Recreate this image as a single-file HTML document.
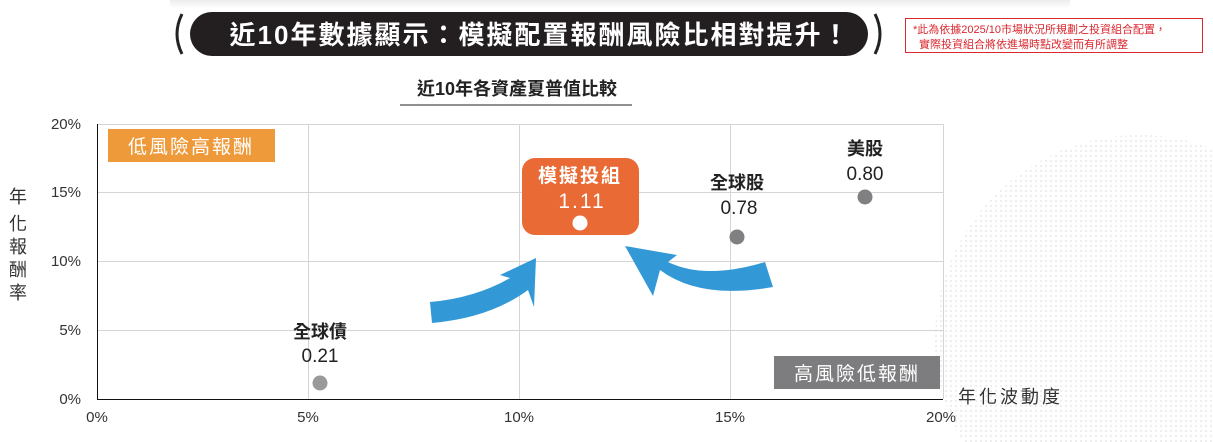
<!DOCTYPE html>
<html><head><meta charset="utf-8"><style>
html,body{margin:0;width:1213px;height:442px;background:#fff;overflow:hidden;font-family:"Liberation Sans","Noto Sans CJK TC",sans-serif;}
svg{display:block}
</style></head><body>
<svg width="1213" height="442" xmlns="http://www.w3.org/2000/svg" style="font-family:'Liberation Sans','Noto Sans CJK TC',sans-serif">
<defs>
<pattern id="dots" width="5" height="5" patternUnits="userSpaceOnUse"><rect width="2" height="2" fill="#e2e2e2"/></pattern>
<linearGradient id="shadow" x1="0" y1="0" x2="0" y2="1"><stop offset="0" stop-color="#ececec"/><stop offset="1" stop-color="#fff"/></linearGradient>
</defs>
<rect x="170" y="0" width="900" height="8" fill="url(#shadow)"/>
<circle cx="1140" cy="340" r="205" fill="url(#dots)" opacity="0.6"/>
<path d="M182 14 Q172 34 182 54" stroke="#222" stroke-width="3" fill="none"/>
<path d="M875 14 Q885 34 875 54" stroke="#222" stroke-width="3" fill="none"/>
<rect x="190" y="12" width="678" height="44" rx="22" fill="#231f20"/>
<text x="540" y="44" font-size="26" font-weight="bold" fill="#fff" text-anchor="middle" letter-spacing="2">近10年數據顯示：模擬配置報酬風險比相對提升！</text>
<rect x="905.5" y="18.5" width="297" height="34" fill="#fff" stroke="#d9282f"/>
<text x="913" y="33" font-size="11" fill="#d9282f">*此為依據2025/10市場狀況所規劃之投資組合配置，</text>
<text x="919" y="48" font-size="11" fill="#d9282f">實際投資組合將依進場時點改變而有所調整</text>
<text x="517" y="95" font-size="18" font-weight="bold" fill="#222" text-anchor="middle">近10年各資產夏普值比較</text>
<line x1="400" y1="105" x2="632" y2="105" stroke="#222" stroke-width="1"/>
<g stroke="#d4d4d4" stroke-width="1">
<line x1="97" y1="124.5" x2="943" y2="124.5"/>
<line x1="97" y1="192.5" x2="943" y2="192.5"/>
<line x1="97" y1="261.5" x2="943" y2="261.5"/>
<line x1="97" y1="330.5" x2="943" y2="330.5"/>
<line x1="308.5" y1="124" x2="308.5" y2="399"/>
<line x1="519.5" y1="124" x2="519.5" y2="399"/>
<line x1="730.5" y1="124" x2="730.5" y2="399"/>
<line x1="943.5" y1="124" x2="943.5" y2="399"/>
</g>
<line x1="97.5" y1="124" x2="97.5" y2="399" stroke="#111"/>
<line x1="97" y1="399.5" x2="943" y2="399.5" stroke="#111"/>
<g font-size="15" fill="#333" text-anchor="end">
<text x="81" y="129">20%</text><text x="81" y="197">15%</text><text x="81" y="266">10%</text><text x="81" y="335">5%</text><text x="81" y="404">0%</text>
</g>
<g font-size="15" fill="#333" text-anchor="middle">
<text x="97" y="422">0%</text><text x="308" y="422">5%</text><text x="519" y="422">10%</text><text x="730" y="422">15%</text><text x="941" y="422">20%</text>
</g>
<g font-size="18" fill="#333" text-anchor="middle">
<text x="18" y="203">年</text><text x="18" y="230">化</text><text x="18" y="253">報</text><text x="18" y="276">酬</text><text x="18" y="299">率</text>
</g>
<text x="958" y="403" font-size="18" fill="#333" letter-spacing="3">年化波動度</text>
<rect x="108" y="129" width="167" height="33" fill="#ee9a3a"/>
<text x="191" y="153" font-size="19" fill="#fff" text-anchor="middle" letter-spacing="2">低風險高報酬</text>
<rect x="774" y="356" width="166" height="33" fill="#7d7d7f"/>
<text x="857" y="380" font-size="19" fill="#fff" text-anchor="middle" letter-spacing="2">高風險低報酬</text>
<text x="320" y="338" font-size="18" font-weight="bold" fill="#222" text-anchor="middle">全球債</text>
<text x="320" y="362" font-size="19" fill="#222" text-anchor="middle">0.21</text>
<circle cx="320" cy="383" r="7.5" fill="#999"/>
<text x="737" y="189" font-size="18" font-weight="bold" fill="#222" text-anchor="middle">全球股</text>
<text x="739" y="214" font-size="19" fill="#222" text-anchor="middle">0.78</text>
<circle cx="737" cy="237" r="7.5" fill="#808082"/>
<text x="865" y="155" font-size="18" font-weight="bold" fill="#222" text-anchor="middle">美股</text>
<text x="865" y="180" font-size="19" fill="#222" text-anchor="middle">0.80</text>
<circle cx="865" cy="197" r="7.5" fill="#808082"/>
<rect x="522" y="158" width="117" height="77" rx="13" fill="#ea6a35"/>
<text x="580" y="182" font-size="19" font-weight="bold" fill="#fff" text-anchor="middle" letter-spacing="2">模擬投組</text>
<text x="582" y="208" font-size="21" fill="#fff" text-anchor="middle" letter-spacing="2">1.11</text>
<circle cx="580" cy="223" r="7.5" fill="#fff"/>
<path d="M430 302 Q475 298 510 278 L500 275 L536 258 L534 307 L528 290 Q490 318 432 323 Z" fill="#3399d6"/>
<path d="M773 287 Q700 300 660 270 L653 296 L625 246 L677 255 L668 262 Q705 280 765 262 Z" fill="#3399d6"/>
</svg>
</body></html>
